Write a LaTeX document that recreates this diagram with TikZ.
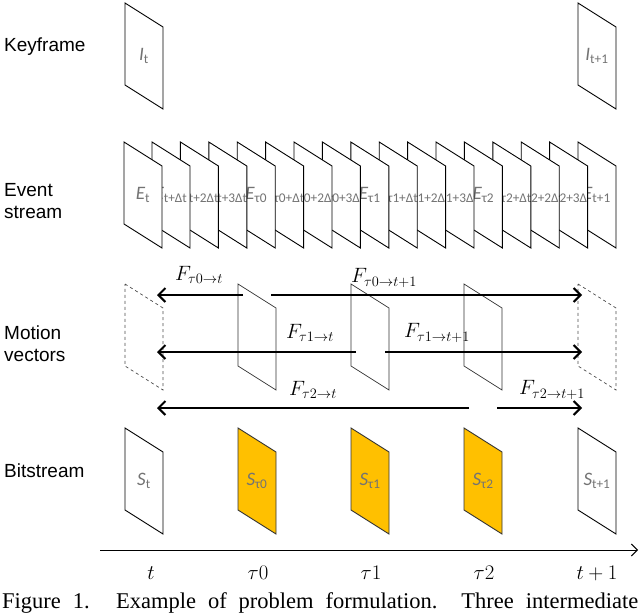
\documentclass[tikz,border=0pt]{standalone}
\usepackage{fontspec}
\setmainfont{Liberation Sans}
\newfontfamily\capf{Liberation Serif}
\newfontfamily\crl{Carlito}
\usetikzlibrary{arrows.meta}
\definecolor{gold}{HTML}{FFC000}
\newcommand{\frm}[5]{% name x y style label
  \path[#4,draw=none] (#2,#3) -- ++(38,24) -- ++(0,82) -- ++(-38,-24) -- cycle;
  \begin{scope}
  \clip (#2,#3) -- ++(38,24) -- ++(0,82) -- ++(-38,-24) -- cycle;
  \node[lab] (#1) at (#2+19,#3+53) {#5};
  \end{scope}
  \draw[#4,fill=none] (#2,#3) -- ++(38,24) -- ++(0,82) -- ++(-38,-24) -- cycle;}
\newcommand{\el}[2]{{\crl\itshape #1}\textsubscript{\crl #2}}
\begin{document}
\begin{tikzpicture}[x=1pt,y=-1pt,
  fr/.style={draw=black,line width=0.9pt,fill=white},
  gfr/.style={draw=black!80,line width=0.9pt,fill=gold},
  mfr/.style={draw=black!80,line width=0.7pt},
  dfr/.style={draw=black!70,line width=0.7pt,dashed},
  lab/.style={text=black!55,font=\fontsize{19}{19}\selectfont,inner sep=0pt},
  row/.style={anchor=west,align=left,font=\fontsize{19}{22}\selectfont,inner sep=0pt},
  fl/.style={font=\fontsize{20}{20}\selectfont,inner sep=0pt},
  mv/.style={line width=2.3pt,-{Straight Barb[length=7pt,width=14pt,line width=2pt]}},
  tl/.style={font=\fontsize{21}{21}\selectfont,inner sep=0pt}]
\useasboundingbox (0,0) rectangle (640,613);
\clip (0,0) rectangle (640,613);
% row labels
\node[row] (rk) at (4,47) {Keyframe};
\node[row] (re) at (4,201) {Event\\stream};
\node[row] (rm) at (4,344) {Motion\\vectors};
\node[row] (rb) at (4,471) {Bitstream};
% keyframes
\frm{It}{125}{3}{fr}{\el{I}{t}}
\frm{It1}{578}{3}{fr}{\el{I}{t+1}}
% event stream (drawn right to left)
\frm{e16}{578}{142}{fr}{\el{E}{t+1}}
\frm{e15}{549.6}{142}{fr}{\el{E}{τ2+3Δt}}
\frm{e14}{521.2}{142}{fr}{\el{E}{τ2+2Δt}}
\frm{e13}{492.8}{142}{fr}{\el{E}{τ2+Δt}}
\frm{e12}{464.4}{142}{fr}{\el{E}{τ2}}
\frm{e11}{436}{142}{fr}{\el{E}{τ1+3Δt}}
\frm{e10}{407.6}{142}{fr}{\el{E}{τ1+2Δt}}
\frm{e9}{379.2}{142}{fr}{\el{E}{τ1+Δt}}
\frm{e8}{350.8}{142}{fr}{\el{E}{τ1}}
\frm{e7}{322.4}{142}{fr}{\el{E}{τ0+3Δt}}
\frm{e6}{294}{142}{fr}{\el{E}{τ0+2Δt}}
\frm{e5}{265.6}{142}{fr}{\el{E}{τ0+Δt}}
\frm{e4}{237.2}{142}{fr}{\el{E}{τ0}}
\frm{e3}{208.8}{142}{fr}{\el{E}{t+3Δt}}
\frm{e2}{180.4}{142}{fr}{\el{E}{t+2Δt}}
\frm{e1}{152}{142}{fr}{\el{E}{t+Δt}}
\frm{e0}{124}{142}{fr}{\el{E}{t}}
% motion vectors
\frm{m0}{125}{284}{dfr}{}
\frm{m1}{238}{284}{mfr}{}
\frm{m2}{351}{284}{mfr}{}
\frm{m3}{464}{284}{mfr}{}
\frm{m4}{578}{284}{dfr}{}
\coordinate (a1s) at (243,295); \coordinate (a1e) at (157,295);
\coordinate (b1s) at (271,295); \coordinate (b1e) at (582,295);
\coordinate (a2s) at (356,352); \coordinate (a2e) at (157,352);
\coordinate (b2s) at (385,352); \coordinate (b2e) at (582,352);
\coordinate (a3s) at (469,408); \coordinate (a3e) at (157,408);
\coordinate (b3s) at (497,408); \coordinate (b3e) at (582,408);
\draw[mv] (a1s) -- (a1e); \draw[mv] (b1s) -- (b1e);
\draw[mv] (a2s) -- (a2e); \draw[mv] (b2s) -- (b2e);
\draw[mv] (a3s) -- (a3e); \draw[mv] (b3s) -- (b3e);
\node[fl] (f1) at (199,275) {$F_{\tau0\rightarrow t}$};
\node[fl] (f2) at (384,278) {$F_{\tau0\rightarrow t+1}$};
\node[fl] (f3) at (310,333) {$F_{\tau1\rightarrow t}$};
\node[fl] (f4) at (437,333) {$F_{\tau1\rightarrow t+1}$};
\node[fl] (f5) at (313,390) {$F_{\tau2\rightarrow t}$};
\node[fl] (f6) at (552,390) {$F_{\tau2\rightarrow t+1}$};
% bitstream
\frm{s0}{125}{428}{fr}{\el{S}{t}}
\frm{s1}{238}{428}{gfr}{\el{S}{τ0}}
\frm{s2}{351}{428}{gfr}{\el{S}{τ1}}
\frm{s3}{464}{428}{gfr}{\el{S}{τ2}}
\frm{s4}{578}{428}{fr}{\el{S}{t+1}}
% axis
\coordinate (ax0) at (100,550); \coordinate (ax1) at (638,550);
\draw[line width=1pt,-{Straight Barb[length=6pt,width=12pt]}] (ax0) -- (ax1);
\node[tl] (t0) at (151,573) {$t$};
\node[tl] (t1) at (258,573) {$\tau0$};
\node[tl] (t2) at (371,573) {$\tau1$};
\node[tl] (t3) at (484,573) {$\tau2$};
\node[tl] (t4) at (597,573) {$t+1$};
% caption
\node[anchor=base west,inner sep=0pt,font=\capf\fontsize{22.5}{20}\selectfont] (cap) at (2,608)
  {\makebox[636pt][s]{Figure 1. Example of problem formulation.\ \ Three intermediate}};
\end{tikzpicture}
\end{document}
